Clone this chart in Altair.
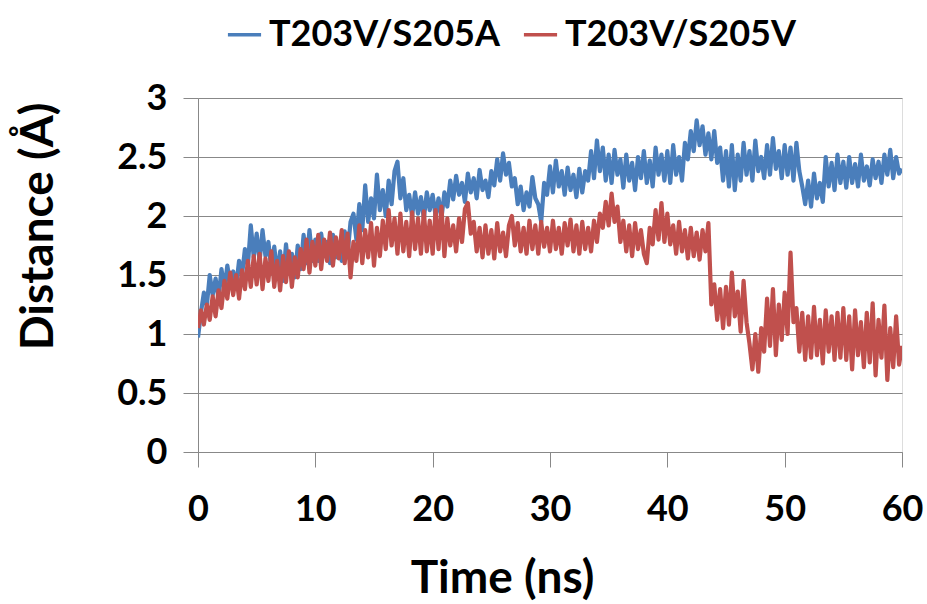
import altair as alt
import pandas as pd

# Hand-read values, one point every 0.25 ns from 0 to 60 ns
series_a_name = "T203V/S205A"
series_v_name = "T203V/S205V"

dist_a = [
    0.97, 1.18, 1.35, 1.24, 1.50, 1.33, 1.47, 1.30, 1.55, 1.38, 1.58, 1.42, 1.53, 1.40, 1.62, 1.50, 1.72, 1.58, 1.92, 1.65,
    1.85, 1.62, 1.88, 1.66, 1.78, 1.55, 1.74, 1.50, 1.70, 1.45, 1.76, 1.52, 1.68, 1.48, 1.75, 1.55, 1.84, 1.60, 1.88, 1.62,
    1.80, 1.62, 1.85, 1.66, 1.78, 1.60, 1.84, 1.65, 1.76, 1.62, 1.87, 1.68, 1.95, 2.02, 1.80, 2.10, 1.88, 2.26, 1.95, 2.15,
    1.98, 2.35, 2.05, 2.22, 2.00, 2.30, 2.10, 2.38, 2.46, 2.15, 2.32, 2.05, 2.18, 2.00, 2.20, 2.02, 2.16, 1.98, 2.20, 2.05,
    2.18, 2.00, 2.15, 1.98, 2.20, 2.08, 2.30, 2.14, 2.34, 2.18, 2.28, 2.12, 2.36, 2.20, 2.32, 2.15, 2.39, 2.22, 2.30, 2.16,
    2.38, 2.26, 2.48, 2.30, 2.53, 2.35, 2.45, 2.25, 2.32, 2.10, 2.25, 2.05, 2.20, 2.08, 2.33, 2.15, 2.10, 1.95, 2.28, 2.18,
    2.42, 2.20, 2.47, 2.25, 2.38, 2.18, 2.41, 2.22, 2.35, 2.16, 2.40, 2.20, 2.38, 2.30, 2.55, 2.32, 2.64, 2.38, 2.58, 2.30,
    2.52, 2.28, 2.56, 2.35, 2.48, 2.24, 2.52, 2.30, 2.45, 2.22, 2.50, 2.32, 2.55, 2.28, 2.47, 2.25, 2.58, 2.35, 2.52, 2.30,
    2.55, 2.28, 2.60, 2.35, 2.50, 2.30, 2.62, 2.48, 2.72, 2.55, 2.81, 2.60, 2.76, 2.52, 2.70, 2.48, 2.72, 2.45, 2.58, 2.30,
    2.55, 2.25, 2.60, 2.22, 2.52, 2.30, 2.62, 2.35, 2.55, 2.30, 2.64, 2.38, 2.50, 2.32, 2.60, 2.35, 2.66, 2.40, 2.55, 2.32,
    2.60, 2.35, 2.58, 2.30, 2.62, 2.38, 2.25, 2.10, 2.30, 2.08, 2.36, 2.15, 2.28, 2.12, 2.50, 2.25, 2.45, 2.22, 2.52, 2.28,
    2.46, 2.24, 2.50, 2.28, 2.44, 2.25, 2.52, 2.30, 2.42, 2.26, 2.48, 2.32, 2.46, 2.28, 2.52, 2.35, 2.56, 2.32, 2.50, 2.36, 2.40,
]

dist_v = [
    1.05, 1.20, 1.08, 1.25, 1.12, 1.32, 1.15, 1.37, 1.22, 1.45, 1.30, 1.52, 1.33, 1.50, 1.30, 1.54, 1.38, 1.62, 1.40, 1.66,
    1.42, 1.68, 1.38, 1.64, 1.45, 1.70, 1.40, 1.62, 1.37, 1.66, 1.44, 1.70, 1.40, 1.65, 1.48, 1.72, 1.55, 1.80, 1.52, 1.78,
    1.58, 1.84, 1.55, 1.80, 1.62, 1.86, 1.58, 1.82, 1.64, 1.88, 1.60, 1.85, 1.48, 1.78, 1.62, 1.92, 1.60, 1.88, 1.65, 1.94,
    1.58, 1.90, 1.66, 1.96, 1.72, 2.05, 1.75, 1.98, 1.68, 2.02, 1.70, 1.95, 1.66, 2.03, 1.72, 1.98, 1.68, 2.04, 1.70, 1.96,
    1.68, 2.05, 1.72, 2.08, 1.66, 1.98, 1.75, 1.92, 1.70, 1.98, 1.78, 2.06, 2.11, 1.85, 1.95, 1.70, 1.90, 1.65, 1.92, 1.68,
    1.88, 1.64, 1.94, 1.70, 1.86, 1.66, 1.92, 2.00, 1.75, 1.94, 1.70, 1.90, 1.68, 1.96, 1.72, 1.92, 1.68, 1.95, 1.74, 1.90,
    1.70, 1.96, 1.72, 1.90, 1.68, 1.94, 1.75, 1.97, 1.70, 1.92, 1.68, 1.95, 1.72, 1.90, 1.70, 1.96, 1.78, 2.02, 1.90, 2.12,
    1.92, 2.19, 1.95, 2.08, 1.78, 1.96, 1.70, 1.92, 1.66, 1.94, 1.72, 1.88, 1.68, 1.60, 1.90, 1.76, 2.05, 1.80, 2.11, 1.78,
    2.02, 1.76, 1.92, 1.68, 1.95, 1.70, 1.88, 1.64, 1.90, 1.66, 1.86, 1.63, 1.88, 1.70, 1.94, 1.25, 1.42, 1.12, 1.38, 1.05,
    1.40, 1.08, 1.52, 1.15, 1.36, 1.02, 1.45, 1.10, 0.92, 0.70, 1.00, 0.68, 1.05, 0.85, 1.30, 0.90, 1.38, 0.82, 1.25, 0.95,
    1.35, 1.00, 1.69, 1.10, 1.22, 0.85, 1.18, 0.78, 1.15, 0.80, 1.23, 0.82, 1.12, 0.75, 1.20, 0.85, 1.15, 0.78, 1.18, 0.80,
    1.22, 0.78, 1.15, 0.70, 1.20, 0.82, 1.10, 0.72, 1.18, 0.76, 1.26, 0.65, 1.12, 0.80, 1.24, 0.61, 1.05, 0.72, 1.15, 0.74, 0.90,
]

x_ticks = [0, 10, 20, 30, 40, 50, 60]
y_ticks = [0, 0.5, 1, 1.5, 2, 2.5, 3]
colors = ["#4A7EBB", "#C0504D"]

time_a = [i * 0.25 for i in range(len(dist_a))]
time_v = [i * 0.25 for i in range(len(dist_v))]

df = pd.concat([
    pd.DataFrame({"Time": time_a, "Distance": dist_a, "Series": series_a_name, "order": 0}),
    pd.DataFrame({"Time": time_v, "Distance": dist_v, "Series": series_v_name, "order": 1}),
])

FONT = "Lato"

chart = alt.Chart(df).mark_line(strokeWidth=4.2, clip=True, strokeJoin="round").encode(
    x=alt.X("Time:Q",
            scale=alt.Scale(domain=[0, 60], nice=False),
            axis=alt.Axis(values=x_ticks, title="Time (ns)", grid=False, labelFlush=False,
                          tickSize=15, tickColor="#888888", domainColor="#888888",
                          labelPadding=25, labelFontSize=36, labelFont=FONT, labelFontWeight="bold",
                          labelColor="black", titleFont=FONT, titleFontSize=46, titleFontWeight="bold",
                          titleColor="black", titleX=304, titleY=126, titleBaseline="middle",
                          titleAnchor="start", titleAlign="center")),
    y=alt.Y("Distance:Q",
            scale=alt.Scale(domain=[0, 3], nice=False),
            axis=alt.Axis(values=y_ticks, format="~g", title="Distance (Å)", grid=True,
                          gridColor="#888888", gridWidth=1.2,
                          tickSize=15, tickColor="#888888", domainColor="#888888",
                          labelPadding=16, labelFontSize=36, labelFont=FONT, labelFontWeight="bold",
                          labelColor="black", titleFont=FONT, titleFontSize=46, titleFontWeight="bold",
                          titleColor="black", titleAngle=-90, titleX=-160, titleY=128,
                          titleBaseline="middle", titleAlign="center", titleAnchor="start")),
    color=alt.Color("Series:N",
                    scale=alt.Scale(domain=[series_a_name, series_v_name], range=colors),
                    legend=alt.Legend(title=None, orient="none", legendX=28, legendY=-82,
                                      direction="horizontal", symbolType="stroke",
                                      symbolSize=1100, symbolStrokeWidth=3.5,
                                      labelFont=FONT, labelFontSize=36, labelFontWeight="bold",
                                      labelColor="black", labelLimit=0, columnPadding=16,
                                      labelOffset=6)),
    order="order:Q",
).properties(
    width=704,
    height=354,
    autosize=alt.AutoSizeParams(type="none"),
    padding={"left": 198, "top": 98, "right": 25, "bottom": 152},
).configure_view(stroke=None).configure(background="white")

chart.save("out.html", embed_options={"renderer": "svg", "actions": False})
